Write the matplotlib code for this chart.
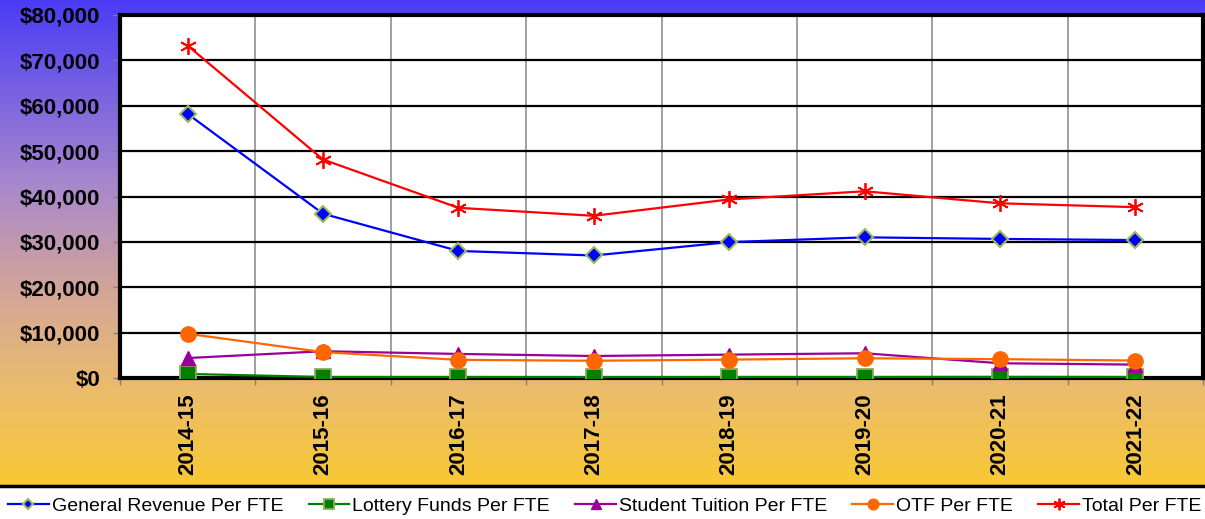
import numpy as np
import matplotlib
matplotlib.use("Agg")
import matplotlib.pyplot as plt
from matplotlib.colors import LinearSegmentedColormap
from matplotlib.ticker import FuncFormatter, FixedLocator
from matplotlib.lines import Line2D

plt.rcParams['font.family'] = ['Liberation Sans', 'DejaVu Sans']

# data (dollars per FTE)
years = ['2014-15', '2015-16', '2016-17', '2017-18', '2018-19', '2019-20', '2020-21', '2021-22']
general_revenue = [58200, 36200, 28000, 27000, 29950, 31000, 30650, 30400]
lottery_funds = [900, 220, 220, 200, 220, 220, 250, 220]
student_tuition = [4400, 5900, 5300, 4850, 5150, 5450, 3250, 2950]
otf = [9750, 5700, 4000, 3800, 4050, 4350, 4150, 3850]
total = [73250, 48150, 37500, 35750, 39350, 41150, 38500, 37650]

fig = plt.figure(figsize=(12.05, 5.19), dpi=100)
W, H = 1205.0, 519.0

# gradient background (blue -> lavender -> tan -> yellow)
bg = fig.add_axes([0, 32 / H, 1, 487 / H], zorder=-10)
cmap = LinearSegmentedColormap.from_list('bg', [
    (0.0, '#4a3cf6'), (0.38, '#a888cc'), (0.62, '#d6a894'),
    (0.8, '#ebbc6c'), (1.0, '#f9c933')])
grad = np.linspace(0, 1, 256).reshape(-1, 1)
bg.imshow(grad, aspect='auto', cmap=cmap, extent=[0, 1, 1, 0])
bg.set_axis_off()
fig.add_artist(Line2D([0, 1], [33 / H, 33 / H], color='black', lw=2.5,
                      transform=fig.transFigure))

ax = fig.add_axes([120 / W, (H - 378) / H, 1083 / W, 363 / H])
ax.set_facecolor('white')
x = np.arange(len(years))

ax.plot(x, general_revenue, color='#0000ff', lw=1.6, marker='D', ms=8,
        mfc='#0000ff', mec='#9bbb59', mew=1.5, label='General Revenue Per FTE', zorder=3)
ax.plot(x, lottery_funds, color='#008000', lw=1.6, marker='s', ms=11,
        mfc='#008000', mec='#8aab5a', mew=1.3, label='Lottery Funds Per FTE', zorder=3)
ax.plot(x, student_tuition, color='#990099', lw=1.6, marker='^', ms=10,
        mfc='#990099', mec='#990099', label='Student Tuition Per FTE', zorder=3)
ax.plot(x, otf, color='#ff6600', lw=1.6, marker='o', ms=11,
        mfc='#ff6600', mec='#ff6600', label='OTF Per FTE', zorder=3)
ax.plot(x, total, color='#ff0000', lw=1.6, marker=(6, 2, 0), ms=12,
        mec='#ff0000', mew=1.3, label='Total Per FTE', zorder=3)

ax.set_xlim(-0.5, len(years) - 0.5)
ax.set_ylim(0, 80000)
ax.set_yticks(np.arange(0, 80001, 10000))
ax.yaxis.set_major_formatter(FuncFormatter(lambda v, p: '${:,.0f}'.format(v)))
ax.set_xticks(x)
ax.set_xticklabels(years, rotation=90)
ax.xaxis.set_minor_locator(FixedLocator(np.arange(-0.5, len(years), 1.0)))

ax.grid(axis='y', which='major', color='black', lw=1.6, zorder=1)
ax.grid(axis='x', which='minor', color='#909090', lw=1.2, zorder=1)
ax.set_axisbelow(True)

ax.tick_params(axis='x', which='major', length=0, pad=11)
ax.tick_params(axis='x', which='minor', length=5, color='#808080', width=1)
ax.tick_params(axis='y', length=5, color='#808080', width=1, pad=9)
for lab in ax.get_xticklabels() + ax.get_yticklabels():
    lab.set_fontsize(16)
    lab.set_fontweight('bold')
for s in ax.spines.values():
    s.set_linewidth(3)
    s.set_color('black')

fig.legend(loc='center left', bbox_to_anchor=(8 / W, 13 / H), ncol=5, frameon=False,
           fontsize=14, handlelength=2.1, handletextpad=0.15, columnspacing=1.3,
           borderpad=0, borderaxespad=0, markerscale=0.7)

fig.savefig('out.png', dpi=100)
